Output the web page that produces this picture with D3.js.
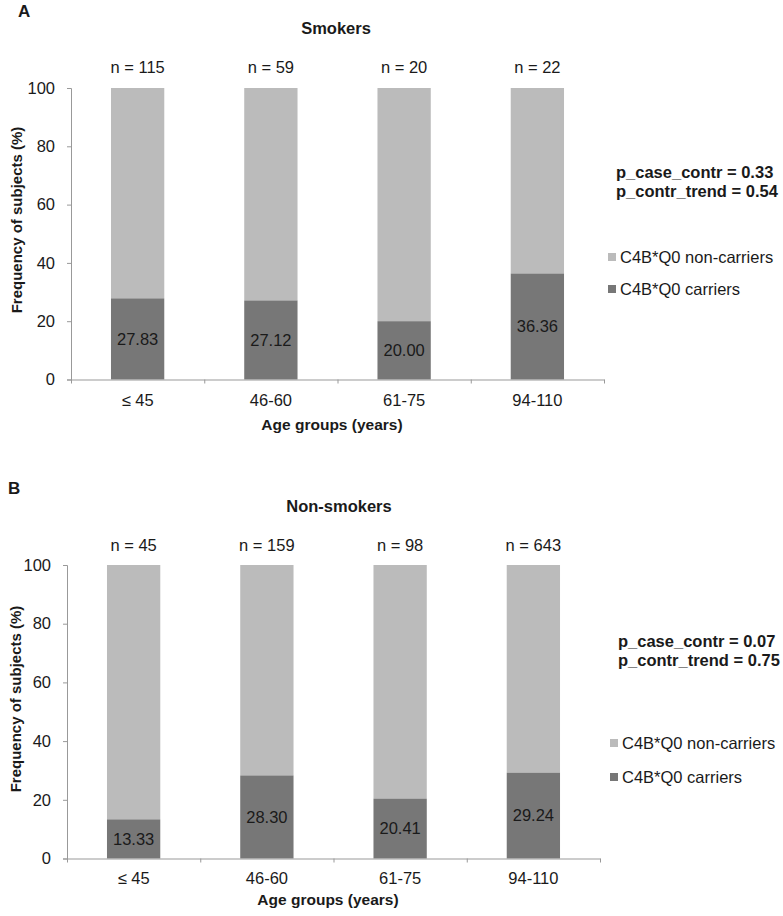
<!DOCTYPE html>
<html>
<head>
<meta charset="utf-8">
<script src="https://cdn.jsdelivr.net/npm/d3@7"></script>
<style>
  body { margin: 0; background: white; }
  text { font-family: "Liberation Sans", Arial, sans-serif; fill: #1a1a1a; }
</style>
</head>
<body>
<div id="chart"></div>
<script>
// datos del grafico
const ageGroups = ["\u2264 45", "46-60", "61-75", "94-110"];
const smokersN = [115, 59, 20, 22];
const smokersCarriers = [27.83, 27.12, 20.00, 36.36];
const nonSmokersN = [45, 159, 98, 643];
const nonSmokersCarriers = [13.33, 28.30, 20.41, 29.24];
const yTicks = [0, 20, 40, 60, 80, 100];
const legendLabels = ["C4B*Q0 non-carriers", "C4B*Q0 carriers"];
const smokersP = ["p_case_contr = 0.33", "p_contr_trend = 0.54"];
const nonSmokersP = ["p_case_contr = 0.07", "p_contr_trend = 0.75"];

const colorLight = "#bbbbbb";
const colorDark = "#777777";
const axisColor = "#999999";
const fs = 16.5;

const svg = d3.select("#chart").append("svg")
  .attr("width", 783)
  .attr("height", 916);

function panel(cfg) {
  const g = svg.append("g");

  const x = d3.scaleBand()
    .domain(ageGroups)
    .range([cfg.left, cfg.right])
    .paddingInner(0.6)
    .paddingOuter(0.3);

  const y = d3.scaleLinear()
    .domain([0, 100])
    .range([cfg.bottom, cfg.top]);

  const rows = ageGroups.map((a, i) => ({ grupo: a, n: cfg.n[i], carriers: cfg.carriers[i] }));

  // letra del panel y titulo
  g.append("text").attr("x", cfg.letterX).attr("y", cfg.letterY)
    .attr("font-size", 17).attr("font-weight", "bold").text(cfg.letter);
  g.append("text").attr("x", cfg.titleX).attr("y", cfg.titleY)
    .attr("text-anchor", "middle").attr("font-size", fs).attr("font-weight", "bold")
    .text(cfg.title);

  // barras apiladas
  g.selectAll(".light").data(rows).enter().append("rect")
    .attr("x", d => x(d.grupo))
    .attr("width", x.bandwidth())
    .attr("y", y(100))
    .attr("height", d => y(d.carriers) - y(100))
    .attr("fill", colorLight);

  g.selectAll(".dark").data(rows).enter().append("rect")
    .attr("x", d => x(d.grupo))
    .attr("width", x.bandwidth())
    .attr("y", d => y(d.carriers))
    .attr("height", d => y(0) - y(d.carriers))
    .attr("fill", colorDark);

  // valores dentro de las barras
  g.selectAll(".val").data(rows).enter().append("text")
    .attr("x", d => x(d.grupo) + x.bandwidth() / 2)
    .attr("y", d => (y(d.carriers) + y(0)) / 2)
    .attr("dy", "0.35em")
    .attr("text-anchor", "middle").attr("font-size", fs)
    .text(d => d3.format(".2f")(d.carriers));

  // n = ...
  g.selectAll(".n").data(rows).enter().append("text")
    .attr("x", d => x(d.grupo) + x.bandwidth() / 2)
    .attr("y", cfg.nY)
    .attr("text-anchor", "middle").attr("font-size", fs)
    .text(d => "n = " + d.n);

  // eje y
  const yAxis = g.append("g")
    .attr("transform", `translate(${cfg.left},0)`)
    .call(d3.axisLeft(y).tickValues(yTicks).tickSize(4).tickPadding(12));
  yAxis.selectAll("text").attr("font-size", fs).attr("fill", "#1a1a1a")
    .attr("font-family", '"Liberation Sans", Arial, sans-serif');

  // eje x: linea con marcas en los limites de categoria
  const xb = d3.scaleLinear().domain([0, 4]).range([cfg.left, cfg.right]);
  g.append("g")
    .attr("transform", `translate(0,${cfg.bottom})`)
    .call(d3.axisBottom(xb).tickValues([0, 1, 2, 3, 4]).tickSize(4).tickSizeOuter(0).tickFormat(""));

  const xAxis = g.append("g")
    .attr("transform", `translate(0,${cfg.bottom})`)
    .call(d3.axisBottom(x).tickSize(0).tickPadding(cfg.xLabelPad));
  xAxis.select(".domain").remove();
  xAxis.selectAll("text").attr("font-size", fs).attr("fill", "#1a1a1a")
    .attr("font-family", '"Liberation Sans", Arial, sans-serif');

  g.selectAll(".domain, .tick line").attr("stroke", axisColor);

  // titulos de ejes
  g.append("text")
    .attr("transform", `translate(${cfg.yTitleX},${cfg.yTitleY}) rotate(-90)`)
    .attr("text-anchor", "middle").attr("font-size", 15).attr("font-weight", "bold")
    .text("Frequency of subjects (%)");
  g.append("text").attr("x", cfg.xTitleX).attr("y", cfg.xTitleY)
    .attr("text-anchor", "middle").attr("font-size", 15.5).attr("font-weight", "bold")
    .text("Age groups (years)");

  // valores p
  g.selectAll(".p").data(cfg.p).enter().append("text")
    .attr("x", cfg.pX)
    .attr("y", (d, i) => cfg.pY + i * 19)
    .attr("font-size", fs).attr("font-weight", "bold")
    .text(d => d);

  // leyenda
  const legColors = [colorLight, colorDark];
  legendLabels.forEach((lab, i) => {
    const ly = cfg.legY[i];
    g.append("rect").attr("x", cfg.legX).attr("y", ly - 4).attr("width", 8).attr("height", 8)
      .attr("fill", legColors[i]);
    g.append("text").attr("x", cfg.legX + 12).attr("y", ly).attr("dy", "0.35em")
      .attr("font-size", fs).text(lab);
  });
}

panel({
  letter: "A", letterX: 18, letterY: 17,
  title: "Smokers", titleX: 336, titleY: 34,
  n: smokersN, carriers: smokersCarriers,
  left: 71, right: 604, top: 88, bottom: 379.5,
  nY: 73, xLabelPad: 15,
  yTitleX: 22, yTitleY: 220,
  xTitleX: 332, xTitleY: 430,
  p: smokersP, pX: 616, pY: 178,
  legX: 608, legY: [257, 289]
});

panel({
  letter: "B", letterX: 8, letterY: 494,
  title: "Non-smokers", titleX: 339, titleY: 512,
  n: nonSmokersN, carriers: nonSmokersCarriers,
  left: 67, right: 600, top: 565, bottom: 858.5,
  nY: 551, xLabelPad: 14,
  yTitleX: 21, yTitleY: 699,
  xTitleX: 328, xTitleY: 905,
  p: nonSmokersP, pX: 618, pY: 647,
  legX: 610, legY: [743, 777]
});
</script>
</body>
</html>
